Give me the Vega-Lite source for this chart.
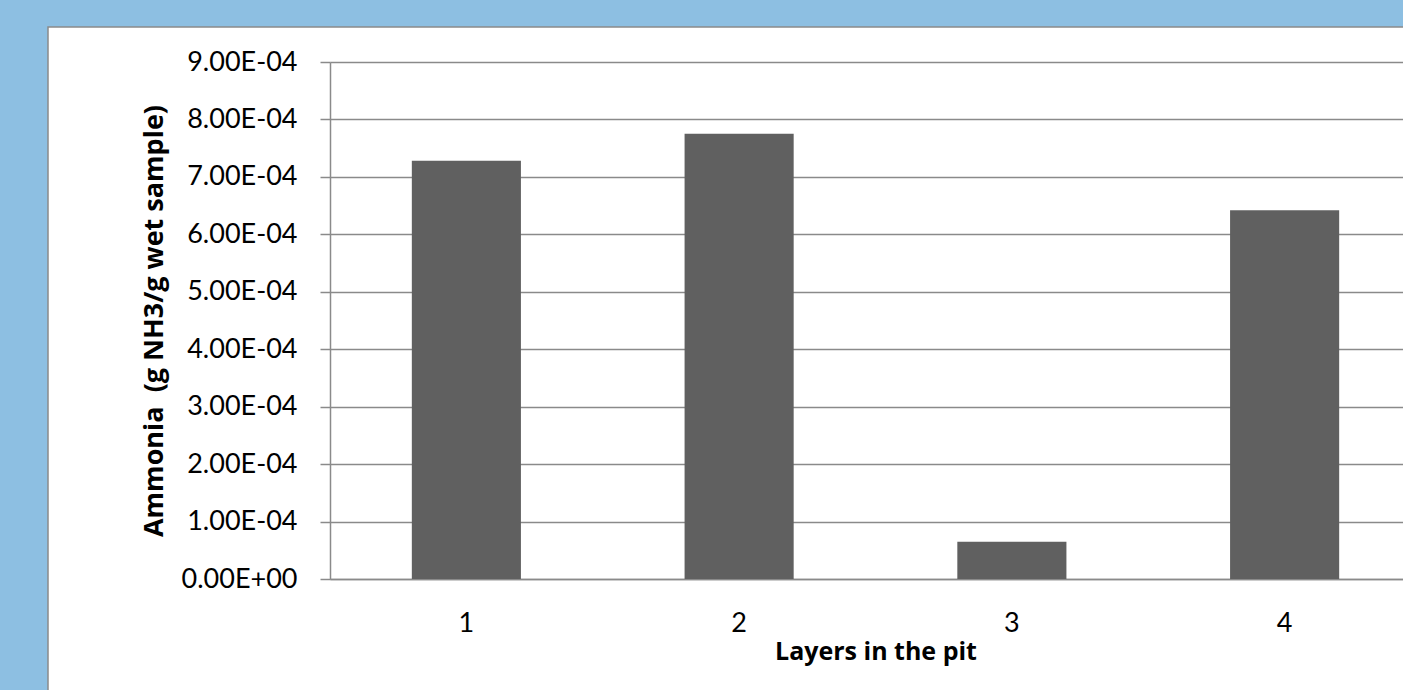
{
  "$schema": "https://vega.github.io/schema/vega-lite/v6.json",
  "width": 1355,
  "height": 663,
  "autosize": {"type": "none"},
  "padding": {"left": 48, "top": 27, "right": 0, "bottom": 0},
  "background": "#8DBFE2",
  "config": {
    "view": {"fill": "white", "stroke": "#8a8a8a", "strokeWidth": 1.5, "strokeDash": [1355, 2018]},
    "font": "Lato"
  },
  "data": {
    "values": [
      {"layer": "1", "ammonia": 0.000728},
      {"layer": "2", "ammonia": 0.000775},
      {"layer": "3", "ammonia": 0.000065},
      {"layer": "4", "ammonia": 0.000642}
    ]
  },
  "mark": {"type": "bar", "color": "#606060"},
  "encoding": {
    "x": {
      "field": "layer",
      "type": "ordinal",
      "sort": null,
      "scale": {"range": [282, 1373], "paddingInner": 0.6, "paddingOuter": 0.3},
      "axis": {
        "title": "Layers in the pit",
        "orient": "bottom",
        "offset": -111,
        "labelAngle": 0,
        "ticks": false,
        "grid": false,
        "domainColor": "#8a8a8a",
        "domainWidth": 1.5,
        "labelFont": "Lato",
        "labelFontSize": 27,
        "labelColor": "black",
        "labelPadding": 31,
        "titleFont": "Open Sans",
        "titleFontSize": 25,
        "titleFontWeight": "bold",
        "titleColor": "black",
        "titlePadding": 3
      }
    },
    "y": {
      "field": "ammonia",
      "type": "quantitative",
      "scale": {"domain": [0, 0.0009], "range": [552, 35], "nice": false, "zero": true},
      "axis": {
        "title": "Ammonia\u00a0\u00a0(g NH3/g wet sample)",
        "orient": "left",
        "offset": -282,
        "values": [0, 0.0001, 0.0002, 0.0003, 0.0004, 0.0005, 0.0006, 0.0007, 0.0008, 0.0009],
        "labelExpr": "replace(replace(format(datum.value, '.2e'), 'e-', 'E-0'), 'e+', 'E+0')",
        "grid": true,
        "gridColor": "#8a8a8a",
        "gridWidth": 1.5,
        "domainColor": "#8a8a8a",
        "domainWidth": 1.5,
        "tickColor": "#8a8a8a",
        "tickWidth": 1.5,
        "tickSize": 10,
        "labelFont": "Lato",
        "labelFontSize": 27,
        "labelColor": "black",
        "labelPadding": 23,
        "titleFont": "Open Sans",
        "titleFontSize": 27,
        "titleFontWeight": "bold",
        "titleColor": "black",
        "titlePadding": 13
      }
    }
  }
}
